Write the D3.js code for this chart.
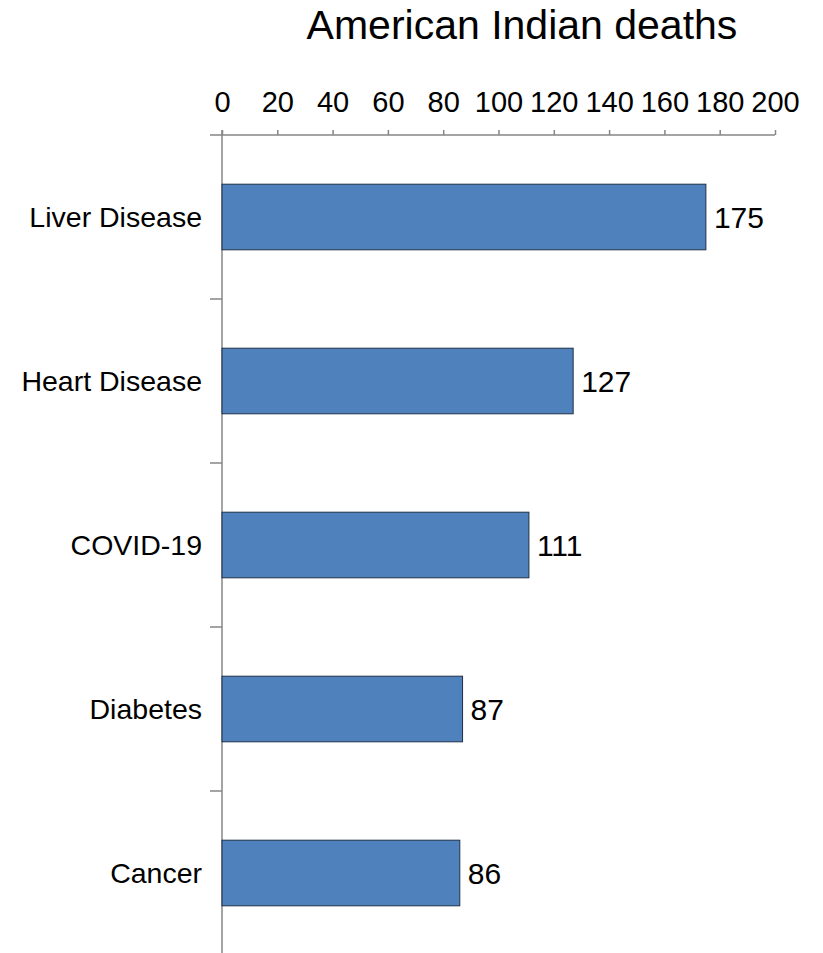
<!DOCTYPE html>
<html><head><meta charset="utf-8">
<script src="https://cdn.jsdelivr.net/npm/d3@7"></script>
<style>body{margin:0;background:#fff}svg{display:block}text{font-family:"Liberation Sans",Arial,sans-serif;fill:#000}</style>
</head><body>
<script>
const categories = ["Liver Disease","Heart Disease","COVID-19","Diabetes","Cancer"];
const values = [175,127,111,87,86];
const tickValues = [0,20,40,60,80,100,120,140,160,180,200];
const title = "American Indian deaths";

const W = 823, H = 953;
const svg = d3.select("body").append("svg").attr("width", W).attr("height", H);

const x = d3.scaleLinear().domain([0,200]).range([222,775]);
const y = d3.scaleBand().domain(categories).range([135,955]).paddingInner(0.6).paddingOuter(0.3);

svg.append("text").attr("x",522).attr("y",39).attr("text-anchor","middle")
  .style("font-size","41px").text(title);

// top axis
const gx = svg.append("g").attr("transform","translate(0,135)")
  .call(d3.axisTop(x).tickValues(tickValues).tickSize(5).tickPadding(18).tickFormat(d3.format("d")));
gx.select(".domain").remove();
gx.selectAll(".tick line").attr("stroke","#868686").attr("stroke-width",1.5);
gx.selectAll(".tick text").style("font-size","29px").attr("fill","#000").style("font-family","'Liberation Sans',Arial,sans-serif");
svg.append("line").attr("x1",210).attr("x2",x(200)).attr("y1",135).attr("y2",135)
  .attr("stroke","#868686").attr("stroke-width",1.5);

// vertical axis
svg.append("line").attr("x1",222).attr("x2",222).attr("y1",130).attr("y2",H)
  .attr("stroke","#868686").attr("stroke-width",1.5);
const step = y.step();
// category boundary ticks
const bounds = categories.slice(1).map(c => y(c) - (step - y.bandwidth())/2);
svg.selectAll(".ctick").data(bounds).join("line").attr("class","ctick")
  .attr("x1",210).attr("x2",222).attr("y1",d=>d).attr("y2",d=>d)
  .attr("stroke","#868686").attr("stroke-width",1.5);

// bars
svg.selectAll(".bar").data(categories).join("rect").attr("class","bar")
  .attr("x",x(0)).attr("y",d=>y(d)).attr("width",(d,i)=>x(values[i])-x(0)).attr("height",y.bandwidth())
  .attr("fill","#4F81BD").attr("stroke","#1F2F45").attr("stroke-width",1);

// category labels
svg.selectAll(".clab").data(categories).join("text").attr("class","clab")
  .attr("x",202).attr("y",d=>y(d)+y.bandwidth()/2+10).attr("text-anchor","end")
  .style("font-size","28.5px").text(d=>d);

// value labels
svg.selectAll(".vlab").data(categories).join("text").attr("class","vlab")
  .attr("x",(d,i)=>x(values[i])+8).attr("y",d=>y(d)+y.bandwidth()/2+11)
  .style("font-size","30px").text((d,i)=>values[i]);
</script>
</body></html>
